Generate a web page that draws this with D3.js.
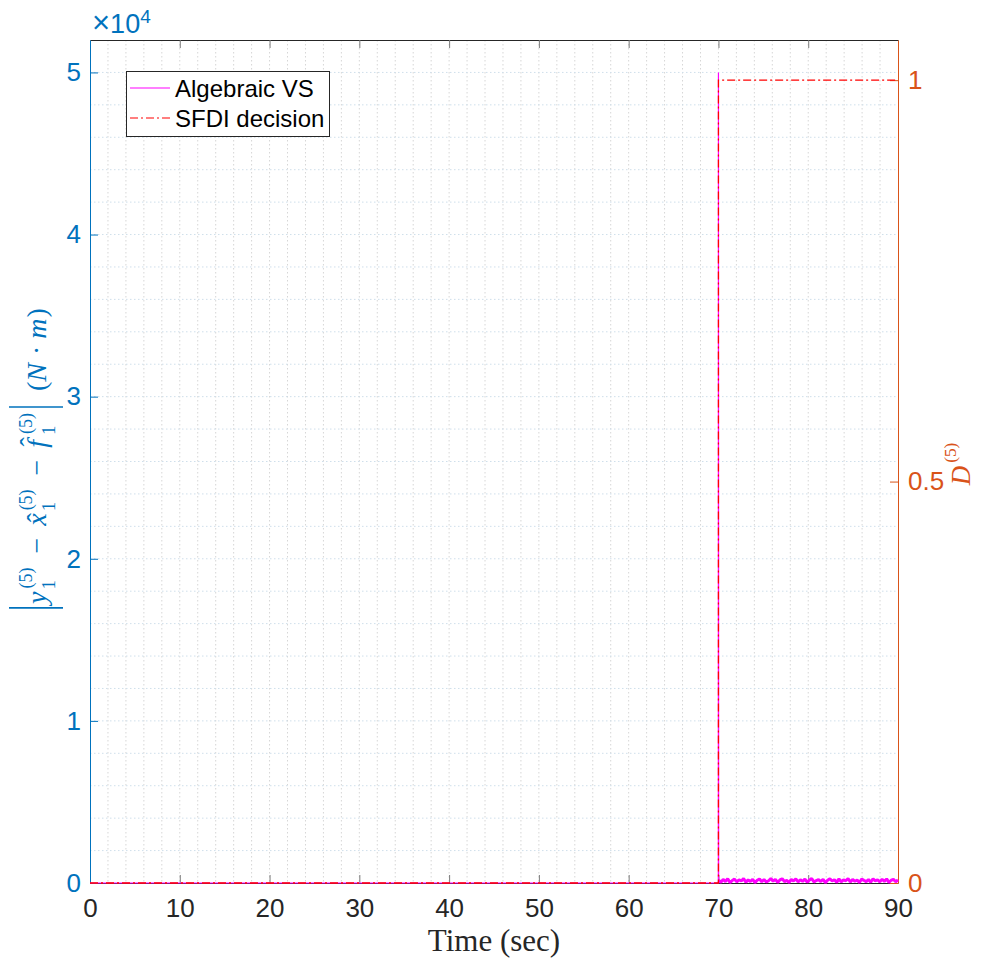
<!DOCTYPE html>
<html><head><meta charset="utf-8">
<script src="https://cdn.jsdelivr.net/npm/d3@7"></script>
<style>body{margin:0;background:#fff} svg{display:block}</style>
</head><body>
<svg id="c" width="985" height="963"></svg>
<script>
// ---------- data ----------
const xTicks = [0,10,20,30,40,50,60,70,80,90];
const leftTicks = [0,10000,20000,30000,40000,50000];
const leftTickLabels = ["0","1","2","3","4","5"];
const rightTicks = [0,0.5,1];
const rightTickLabels = ["0","0.5","1"];
const legendLabels = ["Algebraic VS","SFDI decision"];
// SFDI decision (right axis)
const sfdiTime  = [0,70,70,90];
const sfdiValue = [0,0,1,1];
// Algebraic VS (left axis): zero until fault, spike at t=70, then small noisy residual
const algPreTime  = [0,69.99,70];
const algPreValue = [0,0,50000];
const algNoise = [180,40,220,90,260,30,150,240,70,200,120,270,50,190,100,230,20,170,250,80,
                  210,60,140,280,110,230,40,190,260,90,160,30,220,130,250,70,200,100,240,50,
                  180,270,60,150,210,90,230,20,170,260,120,200,40,250,80,190,140,270,60,220,
                  110,180,30,240,160,90,210,50,260,130,200,70,230,100,250,40,170,220,80,190];

// ---------- layout ----------
const L=90, R=898, T=40, B=883;
const BLUE="#0072BD", ORANGE="#D95319", DARK="#262626";
const svg = d3.select("#c");
const x  = d3.scaleLinear().domain([0,90]).range([L,R]);
const yL = d3.scaleLinear().domain([0,52000]).range([B,T]);
const yR = d3.scaleLinear().domain([0,1.05]).range([B,T]);

// grid (minor + major)
const gGrid = svg.append("g");
gGrid.selectAll("line.v").data(d3.range(2,90,2)).join("line")
  .attr("x1",d=>x(d)).attr("x2",d=>x(d)).attr("y1",T).attr("y2",B)
  .attr("stroke","#d6d6d6").attr("stroke-width",1).attr("stroke-dasharray","1.5,2.5");
gGrid.selectAll("line.h").data(d3.range(2000,52000,2000)).join("line")
  .attr("x1",L).attr("x2",R).attr("y1",d=>yL(d)).attr("y2",d=>yL(d))
  .attr("stroke","#cfdfeb").attr("stroke-width",1).attr("stroke-dasharray","1.5,2.5");

// axes
function styleAxis(g,color,tickColor){
  g.select(".domain").attr("stroke",color).attr("stroke-width",1);
  g.selectAll(".tick line").attr("stroke",tickColor).attr("stroke-width",1);
  g.selectAll(".tick text").attr("fill",color).attr("font-size",26)
   .attr("font-family","'Liberation Sans',Arial,Helvetica,sans-serif");
}
const gx = svg.append("g").attr("transform",`translate(0,${B})`)
  .call(d3.axisBottom(x).tickValues(xTicks).tickSizeInner(-8).tickSizeOuter(0).tickPadding(16));
styleAxis(gx,DARK,"#7a7a7a");
const gxt = svg.append("g").attr("transform",`translate(0,${T})`)
  .call(d3.axisTop(x).tickValues(xTicks).tickFormat("").tickSizeInner(-8).tickSizeOuter(0));
styleAxis(gxt,DARK,"#7a7a7a");
const gyl = svg.append("g").attr("transform",`translate(${L},0)`)
  .call(d3.axisLeft(yL).tickValues(leftTicks).tickFormat((d,i)=>leftTickLabels[i])
        .tickSizeInner(-8).tickSizeOuter(0).tickPadding(9));
styleAxis(gyl,BLUE,BLUE);
const gyr = svg.append("g").attr("transform",`translate(${R},0)`)
  .call(d3.axisRight(yR).tickValues(rightTicks).tickFormat((d,i)=>rightTickLabels[i])
        .tickSizeInner(-8).tickSizeOuter(0).tickPadding(10));
styleAxis(gyr,ORANGE,ORANGE);

// series
const lineL = d3.line().x(d=>x(d[0])).y(d=>yL(d[1]));
const lineR = d3.line().x(d=>x(d[0])).y(d=>yR(d[1]));
const algPost = algNoise.map((v,i)=>[70+0.02+i*(20-0.02)/(algNoise.length-1), v]);
const algPre = algPreTime.map((t,i)=>[t,algPreValue[i]]).concat([algPost[0]]);
svg.append("path").datum(algPre).attr("d",lineL)
  .attr("fill","none").attr("stroke","#FF00FF").attr("stroke-width",1.2);
svg.append("path").datum(algPost).attr("d",lineL)
  .attr("fill","none").attr("stroke","#FF00FF").attr("stroke-width",3)
  .attr("stroke-linejoin","bevel");
svg.append("path").datum(sfdiTime.map((t,i)=>[t,sfdiValue[i]])).attr("d",lineR)
  .attr("fill","none").attr("stroke","#FF0000").attr("stroke-width",1.3)
  .attr("stroke-dasharray","8,3,2,3");

// x10^4
const mult = svg.append("text").attr("x",92).attr("y",33).attr("fill",BLUE)
  .attr("font-family","'Liberation Sans',Arial,sans-serif").attr("font-size",27);
mult.append("tspan").attr("font-size",31).text("×");
mult.append("tspan").text("10");
mult.append("tspan").attr("font-size",19).attr("dy",-10).text("4");

// legend
const lg = svg.append("g");
lg.append("rect").attr("x",126.5).attr("y",71.5).attr("width",203).attr("height",65)
  .attr("fill","#fff").attr("stroke",DARK).attr("stroke-width",1);
const legStyles=[{c:"#FF00FF",d:null},{c:"#FF0000",d:"8,3,2,3"}];
legendLabels.forEach((lab,i)=>{
  const yy = 88 + i*30;
  lg.append("line").attr("x1",130).attr("x2",170).attr("y1",yy).attr("y2",yy)
    .attr("stroke",legStyles[i].c).attr("stroke-width",1.2)
    .attr("stroke-dasharray",legStyles[i].d);
  lg.append("text").attr("x",175).attr("y",yy+9).attr("fill","#000")
    .attr("font-family","'Liberation Sans',Arial,sans-serif").attr("font-size",24).text(lab);
});

// x-axis label
svg.append("text").attr("x",494).attr("y",951).attr("text-anchor","middle")
  .attr("font-family","'Liberation Serif','Times New Roman',serif").attr("font-size",31)
  .attr("fill",DARK).text("Time (sec)");

// math label layout helper
const SERIF="'Liberation Serif','Times New Roman',serif";
function mathLabel(g, pieces, size, color){
  let cx=0;
  const inner=g.append("g");
  pieces.forEach(p=>{
    if(p.bar){
      inner.append("line").attr("x1",cx+4).attr("x2",cx+4).attr("y1",-37).attr("y2",17)
        .attr("stroke",color).attr("stroke-width",1.6);
      cx+=8; return;
    }
    if(p.space){ cx+=p.space; return; }
    if(p.sub!==undefined){
      const s=inner.append("text").attr("x",cx+1).attr("y",9).attr("font-size",size*0.68)
        .attr("font-family",SERIF).attr("fill",color).text(p.sub);
      const u=inner.append("text").attr("x",cx+2).attr("y",-14).attr("font-size",size*0.64)
        .attr("font-family",SERIF).attr("fill",color).text(p.sup);
      cx+=Math.max(s.node().getComputedTextLength()+1,u.node().getComputedTextLength()+2)+2;
      return;
    }
    if(p.op){
      cx+=p.gap||8;
      const t=inner.append("text").attr("x",cx).attr("y",0).attr("font-size",size)
        .attr("font-family",SERIF).attr("fill",color).text(p.op);
      cx+=t.node().getComputedTextLength()+(p.gap||8); return;
    }
    const t=inner.append("text").attr("x",cx).attr("y",0).attr("font-size",size)
      .attr("font-family",SERIF).attr("fill",color)
      .attr("font-style",p.it?"italic":"normal").text(p.t);
    const w=t.node().getComputedTextLength();
    if(p.hat){
      inner.append("text").attr("x",cx+w/2+2).attr("y",p.hatUp?-7:0).attr("text-anchor","middle")
        .attr("font-size",size).attr("font-family",SERIF).attr("fill",color).text("ˆ");
    }
    cx+=w+(p.after||0);
  });
  return cx;
}

// left y label
const gl = svg.append("g");
const leftPieces=[
  {bar:true},{t:"y",it:true,after:1},{sub:"1",sup:"(5)"},{op:"−",gap:12},
  {t:"x",it:true,hat:true,after:1},{sub:"1",sup:"(5)"},{op:"−",gap:12},
  {t:"f",it:true,hat:true,hatUp:true,after:4},{sub:"1",sup:"(5)"},{bar:true},{space:12},
  {t:"("},{t:"N",it:true,after:1},{op:"·",gap:7},{t:"m",it:true,after:1},{t:")"}
];
const wl = mathLabel(gl,leftPieces,28,BLUE);
gl.attr("transform",`translate(46,${460+wl/2}) rotate(-90)`);

// right y label
const gr = svg.append("g");
const wr = mathLabel(gr,[{t:"D",it:true,after:1},{sub:"",sup:"(5)"}],27,ORANGE);
gr.attr("transform",`translate(970,${463+wr/2}) rotate(-90)`);
</script>
</body></html>
